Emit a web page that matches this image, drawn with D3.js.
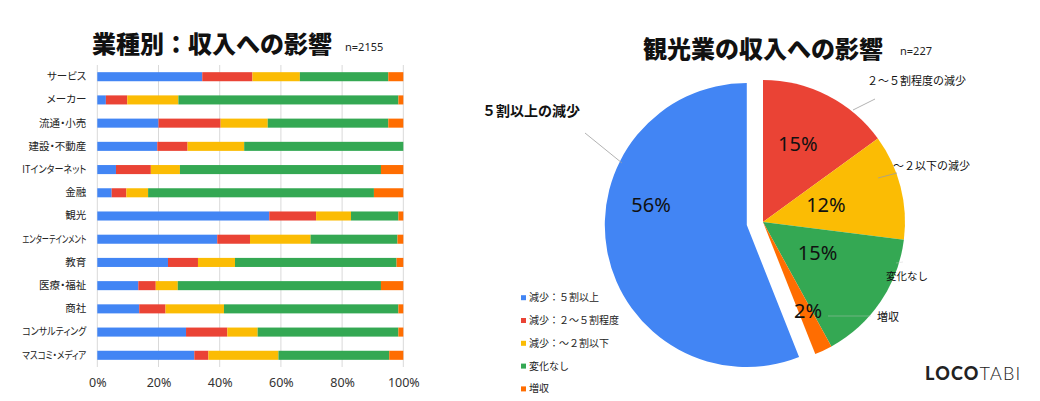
<!DOCTYPE html>
<html>
<head>
<meta charset="utf-8">
<script src="https://cdn.jsdelivr.net/npm/d3@7"></script>
<style>
  html, body { margin: 0; padding: 0; background: #fff; }
  svg { display: block; }
  .palt { font-feature-settings: "palt" 1; }
</style>
</head>
<body>
<svg id="chart" width="1040" height="401"></svg>
<script>
// ---------- DATA ----------
const industries = ["サービス","メーカー","流通・小売","建設・不動産","ITインターネット","金融","観光","エンターテインメント","教育","医療・福祉","商社","コンサルティング","マスコミ・メディア"];
const seriesNames = ["減少：５割以上","減少：２～５割程度","減少：～２割以下","変化なし","増収"];
const drop50Plus   = [34.3, 2.8, 20.0, 19.6, 6.1, 4.7, 56.2, 39.2, 23.1, 13.4, 13.7, 29.0, 31.7];
const drop20to50   = [16.4, 7.0, 20.3, 9.9, 11.4, 4.8, 15.3, 10.7, 9.8, 5.7, 8.6, 13.5, 4.6];
const dropUnder20  = [15.5, 16.7, 15.4, 18.5, 9.5, 7.1, 11.4, 19.8, 12.1, 7.2, 19.1, 9.9, 22.9];
const noChange     = [28.9, 71.9, 39.4, 52.0, 65.7, 73.8, 15.5, 28.4, 52.8, 66.4, 57.0, 46.0, 36.2];
const increase     = [4.9, 1.6, 4.9, 0.0, 7.3, 9.6, 1.6, 1.9, 2.2, 7.3, 1.6, 1.6, 4.6];
const xTicks = [0, 0.2, 0.4, 0.6, 0.8, 1.0];

const pieLabels = ["５割以上の減少","２～５割程度の減少","～２以下の減少","変化なし","増収"];
const piePercents = [56, 15, 12, 15, 2];

const leftTitle = "業種別：収入への影響", leftN = "n=2155";
const rightTitle = "観光業の収入への影響", rightN = "n=227";

// ---------- STYLE ----------
const colors = ["#4285F4","#EA4335","#FBBC04","#34A853","#FF6D01"];
const jp = "'Noto Sans CJK JP', 'Noto Sans', sans-serif";

const svg = d3.select("#chart");
svg.append("rect").attr("width",1040).attr("height",401).attr("fill","#fff");

// ---------- BAR CHART ----------
const seriesArrays = [drop50Plus, drop20to50, dropUnder20, noChange, increase];
const rows = industries.map((c,i) => {
  const o = {cat: c};
  seriesNames.forEach((s,k) => o[s] = seriesArrays[k][i]);
  return o;
});
const stack = d3.stack().keys(seriesNames).offset(d3.stackOffsetExpand);
const stacked = stack(rows);

const x = d3.scaleLinear().domain([0,1]).range([97.3, 403.3]);
const y = d3.scaleBand().domain(industries).range([65.1, 366.9]).paddingInner(0.61).paddingOuter(0.305);

const bar = svg.append("g");
bar.append("g").selectAll("line").data(xTicks).join("line")
  .attr("x1", d => x(d)).attr("x2", d => x(d))
  .attr("y1", 65).attr("y2", 367)
  .attr("stroke", "#d9d9d9").attr("stroke-width", 1);

bar.append("g").selectAll("g").data(stacked).join("g")
  .attr("fill", (d,i) => colors[i])
  .selectAll("rect").data(d => d).join("rect")
  .attr("x", d => x(d[0]))
  .attr("width", d => Math.max(0, x(d[1]) - x(d[0])))
  .attr("y", d => y(d.data.cat))
  .attr("height", y.bandwidth());

const yAxis = d3.axisLeft(y).tickSize(0).tickPadding(11);
const yg = bar.append("g").attr("transform", `translate(${x(0)},0)`).call(yAxis);
yg.select(".domain").remove();
yg.selectAll("text").attr("class", "palt").attr("font-family", jp).attr("font-size", 10.5).attr("fill", "#222")
  .each(function(){
    const maxW = 64;
    const w = this.getComputedTextLength();
    if (w > maxW) d3.select(this).attr("textLength", maxW).attr("lengthAdjust", "spacingAndGlyphs");
  });

const xAxis = d3.axisBottom(x).tickValues(xTicks).tickFormat(d3.format(".0%")).tickSize(0).tickPadding(11);
const xg = bar.append("g").attr("transform", "translate(0,367)").call(xAxis);
xg.select(".domain").remove();
xg.selectAll("text").attr("font-family", "'Noto Sans', sans-serif").attr("font-size", 12.5).attr("fill", "#333");

svg.append("text").attr("x", 92).attr("y", 53).attr("font-family", jp).attr("font-weight", 900)
  .attr("font-size", 24).attr("fill", "#111").text(leftTitle);
svg.append("text").attr("x", 345).attr("y", 51).attr("font-family", "'Noto Sans', sans-serif")
  .attr("font-size", 11).attr("fill", "#222").text(leftN);

// ---------- PIE CHART ----------
const cx = 763, cy = 222, R = 142, explode = 16.5;
const total = d3.sum(piePercents);
const startA = -2 * Math.PI * piePercents[0] / total;
const pie = d3.pie().sort(null).startAngle(startA).endAngle(startA + 2 * Math.PI);
const arcs = pie(piePercents);
const arc = d3.arc().innerRadius(0).outerRadius(R);

const pg = svg.append("g").attr("transform", `translate(${cx},${cy})`);
pg.selectAll("path").data(arcs).join("path")
  .attr("fill", (d,i) => colors[i])
  .attr("d", arc)
  .attr("transform", (d,i) => {
    if (i !== 0) return null;
    const m = (d.startAngle + d.endAngle) / 2;
    return `translate(${Math.sin(m)*explode},${-Math.cos(m)*explode})`;
  });

const labelLayout = [
  {r: 0.69, da: 0.40},
  {r: 0.60, da: -0.05},
  {r: 0.46, da: -0.02},
  {r: 0.44, da: -0.09},
  {r: 0.70, da: -0.03}
];
pg.selectAll("text.pct").data(arcs).join("text").attr("class","pct")
  .each(function(d,i){
    const m = (d.startAngle + d.endAngle)/2 + labelLayout[i].da;
    const rr = R * labelLayout[i].r;
    let ox = 0, oy = 0;
    if (i === 0) { const mm = (d.startAngle + d.endAngle)/2; ox = Math.sin(mm)*explode; oy = -Math.cos(mm)*explode; }
    d3.select(this)
      .attr("x", Math.sin(m)*rr + ox)
      .attr("y", -Math.cos(m)*rr + oy)
      .attr("dy", "0.36em");
  })
  .attr("text-anchor","middle")
  .attr("font-family", "'Noto Sans', sans-serif").attr("font-size", 20).attr("fill","#111")
  .text(d => d3.format(".0f")(d.data) + "%");

const outside = svg.append("g").attr("font-family", jp).attr("fill", "#111");
const lab = [
  {x: 482, y: 116, size: 14, weight: 700},
  {x: 867, y: 85,  size: 11, weight: 400},
  {x: 893, y: 170, size: 11, weight: 400},
  {x: 886, y: 280, size: 10.5, weight: 400},
  {x: 877, y: 320.5, size: 11, weight: 400}
];
pieLabels.forEach((t,i) => {
  outside.append("text").attr("x", lab[i].x).attr("y", lab[i].y)
    .attr("font-size", lab[i].size).attr("font-weight", lab[i].weight).text(t);
});
const leaders = [
  [[585,133],[622,163]],
  [[875,99],[853,110]],
  [[897,173],[878,178]],
  [[903,262],[896,263]],
  [[871,316],[828,316]]
];
svg.append("g").selectAll("path").data(leaders).join("path")
  .attr("d", d => d3.line()(d))
  .attr("stroke", (d,i) => i >= 3 ? "rgba(200,200,200,0.5)" : "#9e9e9e")
  .attr("stroke-width", 0.8).attr("fill","none");

const lg = svg.append("g");
seriesNames.forEach((s,i) => {
  const yy = 297.7 + i * 22.8;
  lg.append("rect").attr("x", 521).attr("y", yy - 2.5).attr("width", 5).attr("height", 5).attr("fill", colors[i]);
  lg.append("text").attr("x", 529).attr("y", yy).attr("dy", "0.35em")
    .attr("font-family", jp).attr("font-size", 10).attr("fill", "#222").text(s);
});

svg.append("text").attr("x", 643).attr("y", 58).attr("font-family", jp).attr("font-weight", 900)
  .attr("font-size", 24).attr("fill", "#111").text(rightTitle);
svg.append("text").attr("x", 900).attr("y", 55).attr("font-family", "'Noto Sans', sans-serif")
  .attr("font-size", 11).attr("fill", "#222").text(rightN);

const logo = svg.append("text").attr("x", 925).attr("y", 380).attr("font-family", "Lato, sans-serif")
  .attr("font-size", 18).attr("fill", "#222").attr("letter-spacing", 1.2);
logo.append("tspan").attr("font-weight", 900).text("LOCO");
logo.append("tspan").attr("font-weight", 300).text("TABI");
</script>
</body>
</html>
